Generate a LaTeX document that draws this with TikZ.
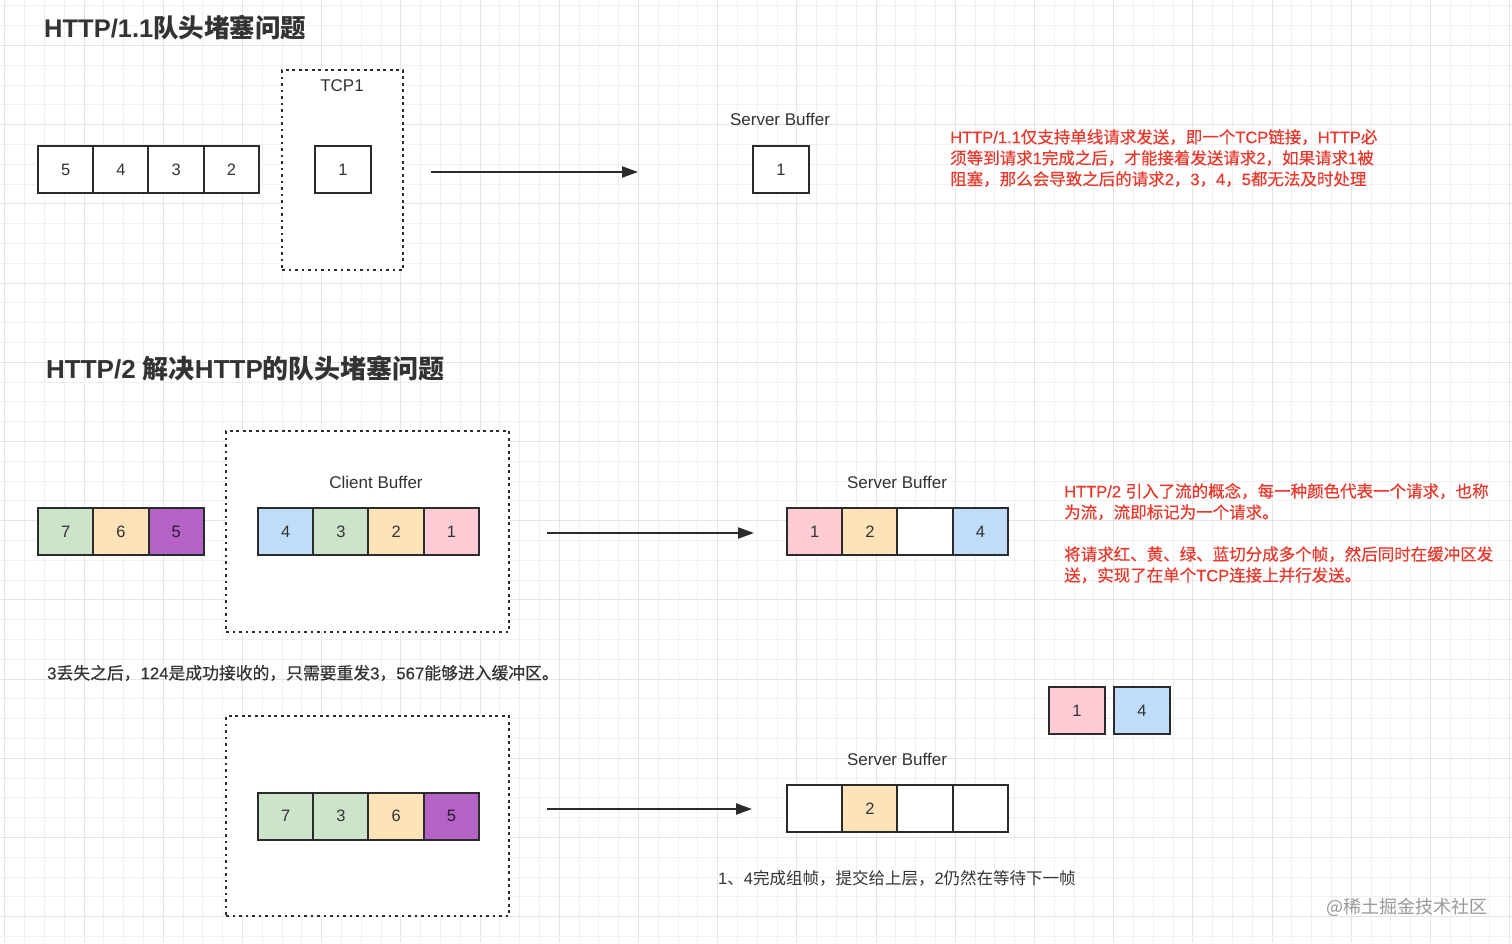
\documentclass[tikz,border=0pt]{standalone}
\usepackage{fontspec}
\setmainfont{Liberation Sans}
\newfontfamily\cjkf{Noto Sans CJK SC}
\newfontfamily\cjkm[FakeBold=0.45]{Noto Sans CJK SC}
\newfontfamily\latm[FakeBold=0.45]{Liberation Sans}
\newcommand\lt[1]{{\rmfamily #1}}
\newcommand\ltm[1]{{\latm #1}}
\usetikzlibrary{arrows.meta}
\definecolor{txt}{HTML}{333333}
\definecolor{cellc}{HTML}{2B2B2B}
\definecolor{redt}{HTML}{E8392C}
\definecolor{gmin}{HTML}{F0F0F0}
\definecolor{gmaj}{HTML}{E4E4E4}
\definecolor{cgreen}{HTML}{CCE5CA}
\definecolor{corange}{HTML}{FFE3B8}
\definecolor{cpurple}{HTML}{B562C6}
\definecolor{cpink}{HTML}{FFCCD6}
\definecolor{cblue}{HTML}{BFDDF9}
\begin{document}
\begin{tikzpicture}[x=1pt,y=-1pt,
  cell/.style={draw=cellc, fill=white, line width=2pt, minimum width=55.25pt, minimum height=47pt, inner sep=0pt, font=\fontsize{16.5}{20}\selectfont, text=txt},
  dotbox/.style={draw=cellc, fill=white, line width=2.6pt, dash pattern=on 2.6pt off 3.9pt, inner sep=0pt},
  lbl/.style={font=\fontsize{17}{20}\selectfont, text=txt, inner sep=0pt},
  title/.style={font=\fontsize{25.5}{30}\selectfont\bfseries\cjkf, text=txt, inner sep=0pt, anchor=west},
  note/.style={font=\fontsize{16.5}{21}\selectfont\cjkm, text=redt, inner sep=0pt, anchor=north west, align=left},
  blk/.style={font=\fontsize{16.5}{20}\selectfont\cjkf, text=txt, inner sep=0pt, anchor=west},
  arr/.style={draw=cellc, line width=2pt, -{Triangle[length=16pt,width=11pt]}}
]
\useasboundingbox (0,0) rectangle (1512,943);
\fill[white] (0,0) rectangle (1512,943);
% grid
\foreach \k in {0,...,76}{
  \pgfmathtruncatemacro\m{mod(\k,4)}
  \ifnum\m=0 \draw[gmaj,line width=1pt] ({4.8+\k*19.8},0) -- ({4.8+\k*19.8},943);
  \else \draw[gmin,line width=1pt] ({4.8+\k*19.8},0) -- ({4.8+\k*19.8},943); \fi
}
\foreach \k in {0,...,47}{
  \pgfmathtruncatemacro\m{mod(\k,4)}
  \ifnum\m=2 \draw[gmaj,line width=1pt] (0,{5.8+\k*19.8}) -- (1512,{5.8+\k*19.8});
  \else \draw[gmin,line width=1pt] (0,{5.8+\k*19.8}) -- (1512,{5.8+\k*19.8}); \fi
}

% ---------- Part 1 ----------
\node[title] (t1) at (44,28) {\lt{HTTP/1.1}队头堵塞问题};
\node[cell] (q5) at (65.6,169.5) {5};
\node[cell] (q4) at (120.9,169.5) {4};
\node[cell] (q3) at (176.1,169.5) {3};
\node[cell] (q2) at (231.4,169.5) {2};
\node[dotbox, minimum width=121pt, minimum height=200pt] (tcp) at (342.5,170) {};
\node[lbl] (tcpl) at (342,86) {TCP1};
\node[cell, minimum width=56pt] (q1) at (343,169.5) {1};
\coordinate (a1s) at (431,172);
\coordinate (a1e) at (638,172);
\draw[arr] (a1s) -- (a1e);
\node[lbl] (sb1) at (780,119) {Server Buffer};
\node[cell, minimum width=56pt] (s1) at (781,169.5) {1};
\node[note] (n1) at (950,129) {\ltm{HTTP/1.1}仅支持单线请求发送，即一个\ltm{TCP}链接，\ltm{HTTP}必\\
须等到请求\ltm{1}完成之后，才能接着发送请求\ltm{2}，如果请求\ltm{1}被\\
阻塞，那么会导致之后的请求\ltm{2}，\ltm{3}，\ltm{4}，\ltm{5}都无法及时处理};

% ---------- Part 2 ----------
\node[title, font=\fontsize{26}{30}\selectfont\bfseries\cjkf] (t2) at (46,368) {\lt{HTTP/2 }解决\lt{HTTP}的队头堵塞问题};
\node[cell, fill=cgreen] (w7) at (65.7,531.5) {7};
\node[cell, fill=corange] (w6) at (121,531.5) {6};
\node[cell, fill=cpurple, text=black!75!cpurple] (w5) at (176.3,531.5) {5};
\node[dotbox, minimum width=283pt, minimum height=201pt] (cbox) at (367.5,531.5) {};
\node[lbl] (cbl) at (376,482) {Client Buffer};
\node[cell, fill=cblue] (c4) at (285.6,531.5) {4};
\node[cell, fill=cgreen] (c3) at (340.9,531.5) {3};
\node[cell, fill=corange] (c2) at (396.1,531.5) {2};
\node[cell, fill=cpink] (c1) at (451.4,531.5) {1};
\coordinate (a2s) at (547,533);
\coordinate (a2e) at (754,533);
\draw[arr] (a2s) -- (a2e);
\node[lbl] (sb2) at (897,482) {Server Buffer};
\node[cell, fill=cpink] (r1) at (814.6,531.5) {1};
\node[cell, fill=corange] (r2) at (869.9,531.5) {2};
\node[cell] (r3) at (925.1,531.5) {};
\node[cell, fill=cblue] (r4) at (980.4,531.5) {4};
\node[note] (n2) at (1064,483) {\ltm{HTTP/2 }引入了流的概念，每一种颜色代表一个请求，也称\\
为流，流即标记为一个请求。\\[21pt]
将请求红、黄、绿、蓝切分成多个帧，然后同时在缓冲区发\\
送，实现了在单个\ltm{TCP}连接上并行发送。};

\node[blk, font=\fontsize{16.8}{20}\selectfont\cjkm] (m1) at (47,673) {\ltm{3}丢失之后，\ltm{124}是成功接收的，只需要重发\ltm{3}，\ltm{567}能够进入缓冲区。};

% ---------- Part 3 ----------
\node[dotbox, minimum width=283pt, minimum height=200pt] (cbox2) at (367.5,816) {};
\node[cell, fill=cgreen] (d7) at (285.6,816) {7};
\node[cell, fill=cgreen] (d3) at (340.9,816) {3};
\node[cell, fill=corange] (d6) at (396.1,816) {6};
\node[cell, fill=cpurple, text=black!75!cpurple] (d5) at (451.4,816) {5};
\coordinate (a3s) at (547,809);
\coordinate (a3e) at (752,809);
\draw[arr] (a3s) -- (a3e);
\node[lbl] (sb3) at (897,759) {Server Buffer};
\node[cell] (e1) at (814.6,808.5) {};
\node[cell, fill=corange] (e2) at (869.9,808.5) {2};
\node[cell] (e3) at (925.1,808.5) {};
\node[cell] (e4) at (980.4,808.5) {};
\node[cell, fill=cpink, minimum width=56pt] (f1) at (1077,710.5) {1};
\node[cell, fill=cblue, minimum width=56pt] (f4) at (1142,710.5) {4};
\node[blk] (b1) at (718,878) {\lt{1}、\lt{4}完成组帧，提交给上层，\lt{2}仍然在等待下一帧};
\node[blk, text=black!40, font=\fontsize{18}{20}\selectfont\cjkf] (wm) at (1326,907) {@稀土掘金技术社区};
\end{tikzpicture}
\end{document}
